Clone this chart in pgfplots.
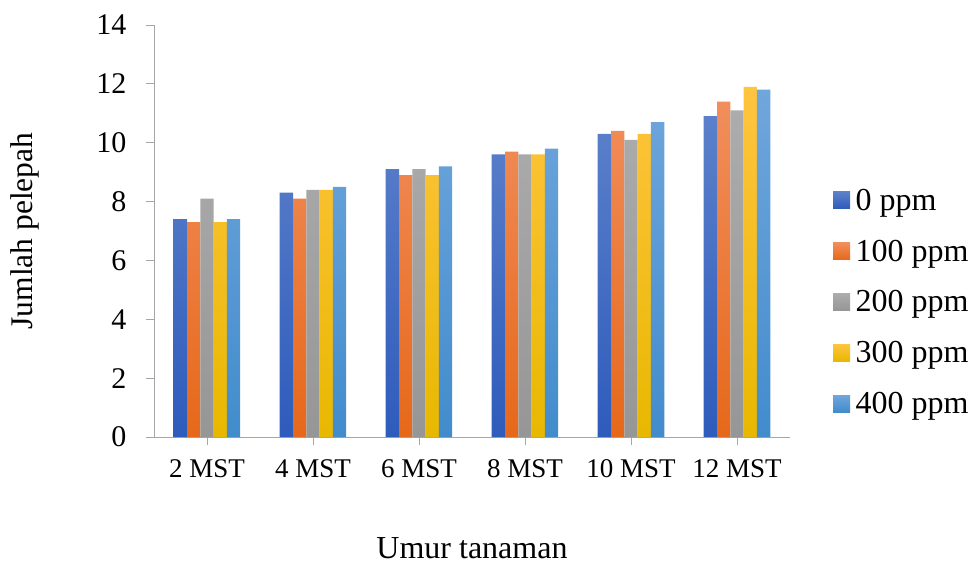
\documentclass[border=0pt]{standalone}
\usepackage{fontspec}
\setmainfont{Liberation Serif}
\usepackage{pgfplots}
\pgfplotsset{compat=1.18}
\definecolor{axgray}{RGB}{166,166,166}
\definecolor{bT}{RGB}{92,128,202}\definecolor{bB}{RGB}{46,92,188}
\definecolor{oT}{RGB}{241,142,92}\definecolor{oB}{RGB}{230,104,26}
\definecolor{gT}{RGB}{172,172,172}\definecolor{gB}{RGB}{150,150,150}
\definecolor{yT}{RGB}{255,196,64}\definecolor{yB}{RGB}{232,184,0}
\definecolor{lT}{RGB}{112,166,220}\definecolor{lB}{RGB}{66,140,204}
\begin{document}
\begin{tikzpicture}
\path[use as bounding box] (-154bp,-130bp) rectangle (819bp,437bp);
\begin{axis}[
  at={(0,0)}, anchor=south west,
  scale only axis, width=636bp, height=412bp,
  ybar=0pt, bar width=13.3bp,
  xmin=-0.5, xmax=5.5, ymin=0, ymax=14,
  enlargelimits=false,
  xtick={0,1,2,3,4,5},
  xticklabels={2 MST,4 MST,6 MST,8 MST,10 MST,12 MST},
  ytick={0,2,4,6,8,10,12,14},
  /pgf/number format/assume math mode=true,
  axis x line*=bottom, axis y line*=left,
  x axis line style={-,draw=axgray,line width=0.9bp},
  y axis line style={-,draw=axgray,line width=0.9bp},
  tick style={draw=axgray,line width=0.9bp},
  tick align=outside, major tick length=8bp,
  xticklabel style={font=\fontsize{27bp}{32bp}\selectfont, yshift=-11bp},
  yticklabel style={font=\fontsize{30bp}{36bp}\selectfont, xshift=-16bp},
  xlabel={Umur tanaman}, ylabel={Jumlah pelepah},
  xlabel style={font=\fontsize{32bp}{38bp}\selectfont, at={(axis description cs:0.5,-0.27)}, anchor=center},
  ylabel style={font=\fontsize{31.5bp}{38bp}\selectfont, at={(axis description cs:-0.203,0.5)}, anchor=center},
  legend style={draw=none, fill=none, at={(axis description cs:1.0676,0.3277)}, anchor=west,
    font=\fontsize{32bp}{38bp}\selectfont, row sep=21bp, inner sep=0pt,
    nodes={inner sep=3.5bp}},
  legend cell align=left,
  legend image code/.code={\path[#1] (0bp,-8.5bp) rectangle (17bp,8.5bp); \path (17bp,0bp) -- (19bp,0bp);},
]
\addplot[draw=none, top color=bT, bottom color=bB] coordinates {(0,7.4) (1,8.3) (2,9.1) (3,9.6) (4,10.3) (5,10.9)};
\addplot[draw=none, top color=oT, bottom color=oB] coordinates {(0,7.3) (1,8.1) (2,8.9) (3,9.7) (4,10.4) (5,11.4)};
\addplot[draw=none, top color=gT, bottom color=gB] coordinates {(0,8.1) (1,8.4) (2,9.1) (3,9.6) (4,10.1) (5,11.1)};
\addplot[draw=none, top color=yT, bottom color=yB] coordinates {(0,7.3) (1,8.4) (2,8.9) (3,9.6) (4,10.3) (5,11.9)};
\addplot[draw=none, top color=lT, bottom color=lB] coordinates {(0,7.4) (1,8.5) (2,9.2) (3,9.8) (4,10.7) (5,11.8)};
\legend{0 ppm,100 ppm,200 ppm,300 ppm,400 ppm}
\end{axis}
\end{tikzpicture}
\end{document}
